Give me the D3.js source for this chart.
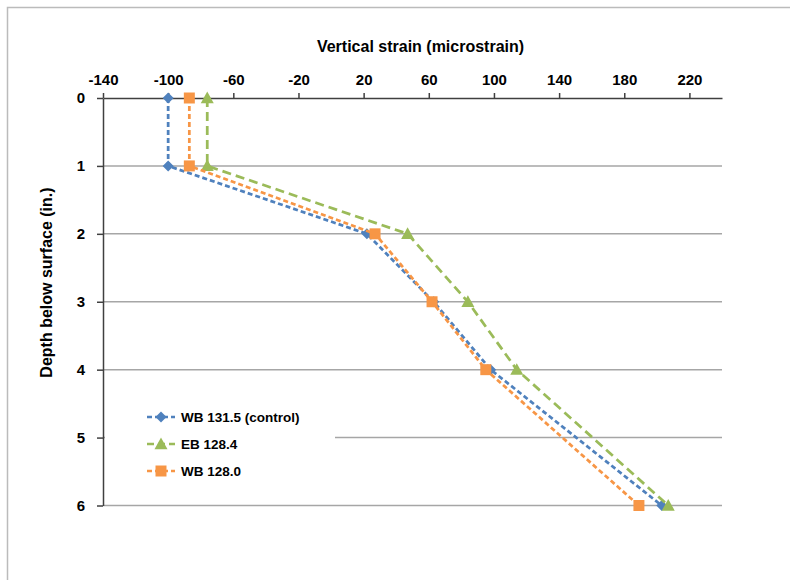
<!DOCTYPE html>
<html>
<head>
<meta charset="utf-8">
<script src="https://cdn.jsdelivr.net/npm/d3@7"></script>
<style>
  html, body { margin: 0; padding: 0; background: #fff; }
  svg { display: block; font-family: "Liberation Sans", Arial, sans-serif; }
</style>
</head>
<body>
<svg id="chart" width="790" height="580"></svg>
<script>
// Depth of each gauge below the surface (in.)
const depths = [0, 1, 2, 3, 4, 6];
// Vertical strain readings (microstrain) per section
const wb1315 = [-100, -100, 22, 63, 98, 203];
const eb1284 = [-76, -76, 47, 84, 114, 207];
const wb1280 = [-87, -87, 27, 62, 95, 189];
const seriesNames = ["WB 131.5 (control)", "EB 128.4", "WB 128.0"];
const xTicks = [-140, -100, -60, -20, 20, 60, 100, 140, 180, 220];
const yTicks = [0, 1, 2, 3, 4, 5, 6];

const series = [
  { name: seriesNames[0], values: wb1315, color: "#4F81BD", dash: "5,3", marker: "diamond" },
  { name: seriesNames[1], values: eb1284, color: "#9BBB59", dash: "9,5", marker: "triangle" },
  { name: seriesNames[2], values: wb1280, color: "#F79646", dash: "5,3", marker: "square" }
];

const svg = d3.select("#chart");

// outer chart frame
svg.append("rect")
  .attr("x", 7.5).attr("y", 7.5)
  .attr("width", 800).attr("height", 600)
  .attr("fill", "none").attr("stroke", "#bbbbbb").attr("stroke-width", 1.5);

const plot = { left: 103, right: 722, top: 98, bottom: 505.5 };

const x = d3.scaleLinear().domain([-140, 240]).range([plot.left, plot.right]);
const y = d3.scaleLinear().domain([0, 6]).range([plot.top, plot.bottom]);

// horizontal gridlines
svg.append("g").selectAll("line")
  .data(yTicks.filter(d => d > 0))
  .join("line")
  .attr("x1", plot.left).attr("x2", plot.right)
  .attr("y1", d => y(d)).attr("y2", d => y(d))
  .attr("stroke", "#a6a6a6").attr("stroke-width", 1.5);

const plainNumber = d => String(d);

// top x axis
const xAxis = svg.append("g")
  .attr("transform", `translate(0,${plot.top})`)
  .call(d3.axisTop(x).tickValues(xTicks).tickFormat(plainNumber)
    .tickSizeInner(5).tickSizeOuter(0).tickPadding(8));
xAxis.select(".domain").attr("stroke", "#404040").attr("stroke-width", 1.5);
xAxis.selectAll(".tick line").attr("stroke", "#404040").attr("stroke-width", 1.5);
xAxis.selectAll(".tick text")
  .attr("font-size", 15).attr("font-weight", "bold").attr("fill", "#000")
  .attr("font-family", "Liberation Sans, Arial, sans-serif");

// left y axis
const yAxis = svg.append("g")
  .attr("transform", `translate(${plot.left},0)`)
  .call(d3.axisLeft(y).tickValues(yTicks).tickFormat(plainNumber)
    .tickSizeInner(6).tickSizeOuter(0).tickPadding(12));
yAxis.select(".domain").attr("stroke", "#404040").attr("stroke-width", 1.5);
yAxis.selectAll(".tick line").attr("stroke", "#404040").attr("stroke-width", 1.5);
yAxis.selectAll(".tick text")
  .attr("font-size", 15).attr("font-weight", "bold").attr("fill", "#000")
  .attr("font-family", "Liberation Sans, Arial, sans-serif");

// axis titles
svg.append("text")
  .attr("x", 420.5).attr("y", 52)
  .attr("text-anchor", "middle")
  .attr("font-size", 16).attr("font-weight", "bold")
  .text("Vertical strain (microstrain)");

svg.append("text")
  .attr("transform", "translate(52,282.5) rotate(-90)")
  .attr("text-anchor", "middle")
  .attr("font-size", 16).attr("font-weight", "bold")
  .text("Depth below surface (in.)");

// marker shapes sized in pixels (size = overall width)
const shapes = {
  diamond: {
    draw(ctx, s) { const r = s / 2; ctx.moveTo(0, -r); ctx.lineTo(r, 0); ctx.lineTo(0, r); ctx.lineTo(-r, 0); ctx.closePath(); }
  },
  triangle: {
    draw(ctx, s) { const r = s / 2; ctx.moveTo(0, -r); ctx.lineTo(r, r * 0.8); ctx.lineTo(-r, r * 0.8); ctx.closePath(); }
  },
  square: {
    draw(ctx, s) { const r = s / 2; ctx.rect(-r, -r, s, s); }
  }
};
const symbolFor = {
  diamond: d3.symbol().type(shapes.diamond).size(11),
  triangle: d3.symbol().type(shapes.triangle).size(13),
  square: d3.symbol().type(shapes.square).size(11)
};

const line = d3.line().x(d => x(d.v)).y(d => y(d.d));

// series lines and markers
series.forEach(s => {
  const pts = depths.map((d, i) => ({ d, v: s.values[i] }));
  const g = svg.append("g");
  g.append("path")
    .datum(pts)
    .attr("d", line)
    .attr("fill", "none")
    .attr("stroke", s.color)
    .attr("stroke-width", 2.75)
    .attr("stroke-dasharray", s.dash);
  g.selectAll("path.m")
    .data(pts)
    .join("path")
    .attr("class", "m")
    .attr("transform", p => `translate(${x(p.v)},${y(p.d)})`)
    .attr("d", symbolFor[s.marker])
    .attr("fill", s.color);
});

// legend
const legend = svg.append("g");
legend.append("rect")
  .attr("x", 105).attr("y", 388).attr("width", 230).attr("height", 106)
  .attr("fill", "#fff");
series.forEach((s, i) => {
  const ly = 417 + i * 27;
  legend.append("line")
    .attr("x1", 147).attr("x2", 175).attr("y1", ly).attr("y2", ly)
    .attr("stroke", s.color).attr("stroke-width", 2.5)
    .attr("stroke-dasharray", s.dash === "9,5" ? "7,4" : "5,3");
  legend.append("path")
    .attr("transform", `translate(161,${ly})`)
    .attr("d", symbolFor[s.marker])
    .attr("fill", s.color);
  legend.append("text")
    .attr("x", 181).attr("y", ly + 5)
    .attr("font-size", 13.5).attr("font-weight", "bold")
    .text(s.name);
});
</script>
</body>
</html>
